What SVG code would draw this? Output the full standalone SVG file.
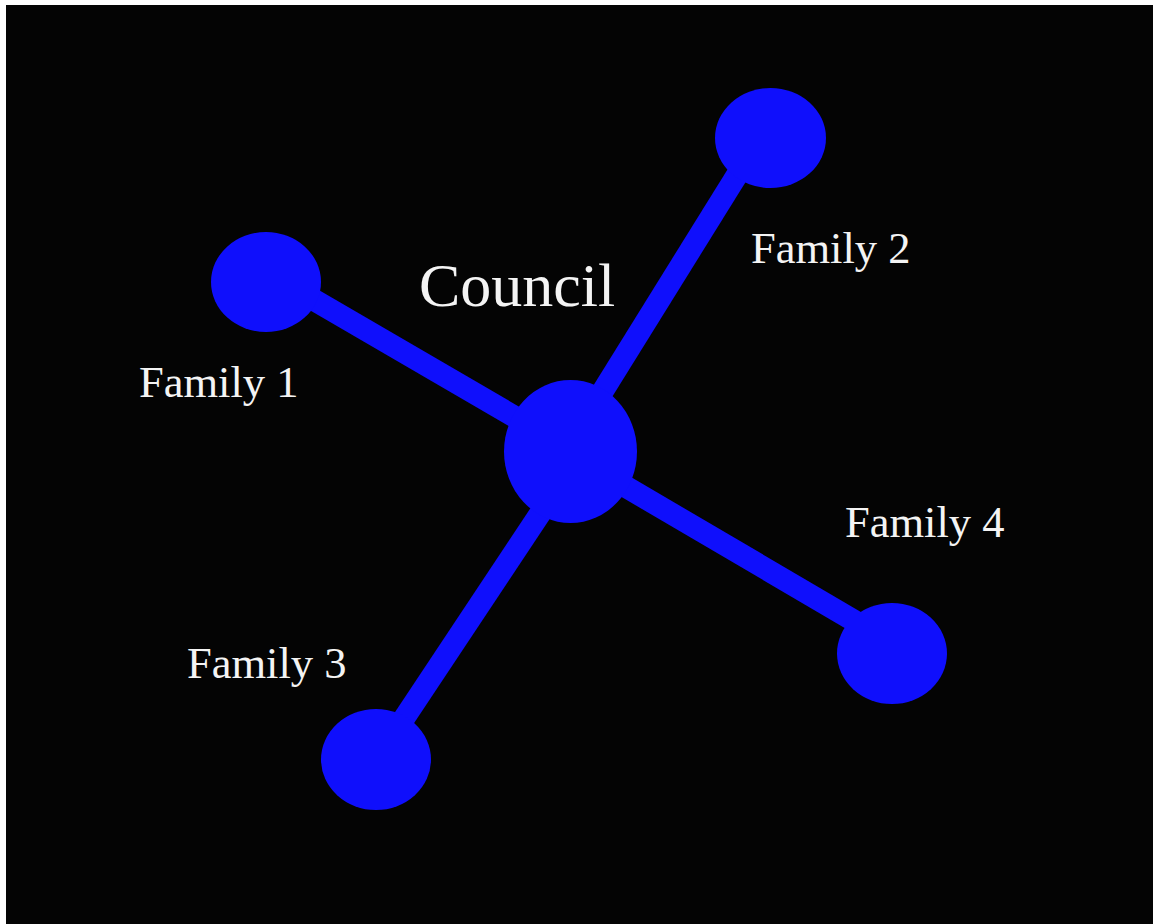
<svg xmlns="http://www.w3.org/2000/svg" width="1153" height="924" viewBox="0 0 1153 924">
<style>
.bg{fill:#040404}
.node{fill:#0f0ffc}
.edge{stroke:#0f0ffc;stroke-width:22;fill:none}
.lbl{font-family:"Liberation Serif","Times New Roman",serif;fill:#f4f4f4;font-size:44.5px}
.title{font-size:62px}
</style>
<rect x="0" y="0" width="1153" height="924" fill="#ffffff"/>
<rect class="bg" x="6" y="5" width="1147" height="919"/>
<g id="connectors">
<line class="edge" x1="266" y1="272" x2="570" y2="449"/>
<line class="edge" x1="565" y1="452" x2="760" y2="138"/>
<line class="edge" x1="581" y1="452" x2="377" y2="759"/>
<line class="edge" x1="570" y1="454" x2="892" y2="643"/>
</g>
<g id="family1">
<ellipse class="node" cx="266" cy="282" rx="55" ry="50"/>
<text class="lbl" x="139" y="397">Family 1</text>
</g>
<g id="family2">
<ellipse class="node" cx="770.5" cy="138" rx="55.5" ry="50"/>
<text class="lbl" x="751" y="263">Family 2</text>
</g>
<g id="family3">
<ellipse class="node" cx="376" cy="759.5" rx="55" ry="50.5"/>
<text class="lbl" x="187" y="678">Family 3</text>
</g>
<g id="family4">
<ellipse class="node" cx="892" cy="653.5" rx="55" ry="50.5"/>
<text class="lbl" x="845" y="537">Family 4</text>
</g>
<g id="council">
<ellipse class="node" cx="570.5" cy="451.5" rx="66.5" ry="71.5"/>
<text class="lbl title" x="419" y="306">Council</text>
</g>
</svg>
